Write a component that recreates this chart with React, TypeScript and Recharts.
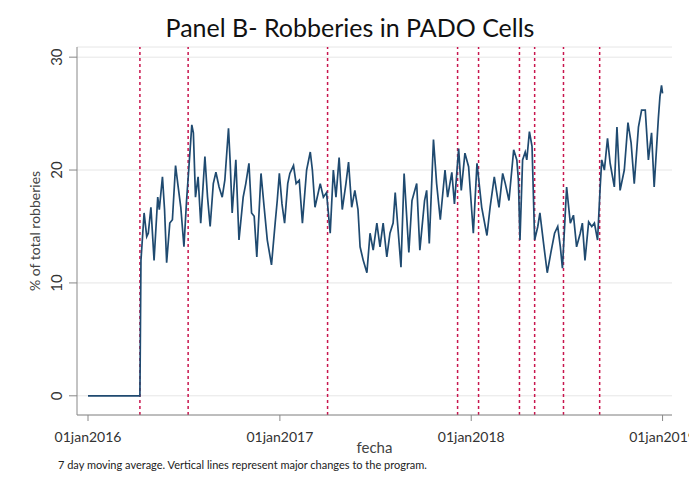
import React from "react";
import {
  CartesianGrid,
  Label,
  Line,
  LineChart,
  ReferenceLine,
  XAxis,
  YAxis,
} from "recharts";

// days since 01jan2016
const days = [
  0, 99, 101, 102, 107, 112, 115, 120, 126, 133, 136, 142, 146, 150, 156, 161, 167, 172, 177, 183,
  188, 193, 198, 201, 205, 210, 215, 223, 228, 233, 239, 244, 250, 256, 261, 268, 271, 275, 282, 288,
  296, 301, 307, 312, 317, 322, 330, 336, 342, 350, 357, 361, 365, 370, 375, 381, 385, 392, 397, 403,
  409, 417, 424, 428, 433, 443, 449, 455, 462, 468, 473, 479, 485, 492, 497, 503, 509, 515, 519, 525,
  532, 538, 544, 551, 557, 563, 570, 576, 582, 586, 591, 597, 603, 612, 618, 627, 633, 642, 646, 651,
  659, 665, 672, 681, 686, 694, 699, 707, 712, 719, 726, 735, 742, 751, 761, 767, 775, 784, 791, 796,
  803, 812, 818, 821, 824, 829, 834, 837, 842, 847, 852, 858, 862, 869, 876, 883, 890, 896, 901, 905,
  913, 920, 926, 932, 939, 943, 948, 955, 961, 966, 972, 977, 980, 985, 991, 996, 1004, 1009, 1015, 1023,
  1030, 1036, 1042, 1050, 1056, 1063, 1069, 1075, 1080, 1088, 1091, 1094, 1096,
];

// % of total robberies (7 day moving average)
const robberyShare = [
  0, 0, 12.0, 12.7, 16.2, 14.1, 14.4, 16.7, 12.0, 17.6, 16.5, 19.4, 16.5, 11.8, 15.3, 15.6, 20.4, 18.5, 16.7, 13.2,
  17.3, 20.6, 24.0, 23.3, 17.6, 19.4, 15.3, 21.2, 17.6, 15.0, 18.8, 19.8, 18.5, 17.6, 19.1, 23.7, 20.9, 16.2, 20.9, 13.8,
  17.6, 18.8, 20.6, 16.2, 15.9, 12.3, 19.7, 16.7, 13.8, 11.6, 15.3, 17.3, 19.7, 17.0, 15.3, 18.8, 19.7, 20.4, 18.8, 19.1,
  15.3, 20.0, 21.6, 20.0, 16.7, 18.8, 17.6, 18.0, 14.4, 20.0, 17.6, 21.1, 16.5, 18.8, 20.7, 16.7, 18.2, 16.5, 13.2, 12.0,
  10.9, 14.4, 12.9, 15.3, 13.2, 15.3, 12.3, 14.4, 15.3, 18.0, 15.0, 11.4, 19.7, 12.7, 17.3, 18.8, 12.9, 17.3, 18.2, 13.5,
  22.7, 18.8, 15.6, 20.0, 17.6, 19.8, 17.0, 21.9, 18.2, 21.5, 20.3, 14.4, 20.6, 16.7, 14.2, 16.7, 19.4, 16.7, 19.7, 18.8,
  17.3, 21.8, 20.9, 19.1, 13.8, 20.9, 21.6, 20.9, 23.4, 22.1, 13.8, 15.0, 16.2, 13.5, 10.9, 12.7, 14.4, 15.0, 13.2, 11.3,
  18.5, 15.3, 16.0, 13.2, 14.4, 15.3, 12.0, 15.4, 15.0, 15.3, 13.8, 18.5, 20.9, 20.0, 22.8, 20.6, 18.5, 23.8, 18.2, 20.0,
  24.2, 22.4, 18.8, 23.8, 25.3, 25.3, 20.9, 23.3, 18.5, 24.6, 26.5, 27.5, 26.8,
];

// program changes (days since 01jan2016)
const programChanges = [99, 191, 457, 705, 745, 823, 852, 907, 976];

const xTicks = [0, 366, 731, 1096];
const xTickLabels = ["01jan2016", "01jan2017", "01jan2018", "01jan2019"];
const yTicks = [0, 10, 20, 30];

const rows = days.map((d, i) => ({ day: d, share: robberyShare[i] }));

const FONT = "Lato, 'Open Sans', sans-serif";
const NAVY = "#1f4a70";
const CRIMSON = "#c8164e";

function XTick({ x, y, payload }: any) {
  const i = xTicks.indexOf(payload.value);
  return (
    <text x={x} y={y} dy={19} textAnchor="middle" fontSize={14} fill="#333" fontFamily={FONT}>
      {xTickLabels[i]}
    </text>
  );
}

function YTick({ y, payload }: any) {
  return (
    <text
      x={62}
      y={y}
      transform={`rotate(-90 62 ${y})`}
      textAnchor="middle"
      fontSize={15}
      fill="#333"
      fontFamily={FONT}
    >
      {payload.value}
    </text>
  );
}

export default function App() {
  return (
    <div
      style={{
        position: "absolute",
        left: 0,
        top: 0,
        width: 689,
        height: 489,
        background: "#fff",
        fontFamily: FONT,
        overflow: "hidden",
      }}
    >
      <div
        style={{
          position: "absolute",
          top: 12,
          width: 700,
          textAlign: "center",
          fontSize: 25,
          color: "#111",
        }}
      >
        Panel B- Robberies in PADO Cells
      </div>

      <LineChart
        width={689}
        height={489}
        data={rows}
        margin={{ top: 47, right: 17, left: 0, bottom: 0 }}
      >
        <CartesianGrid stroke="#e6e6e6" vertical={false} />
        <XAxis
          type="number"
          dataKey="day"
          domain={[-21, 1114]}
          ticks={xTicks}
          tick={<XTick />}
          height={74}
          stroke="#888"
          tickSize={6}
        >
          <Label
            value="fecha"
            position="insideTop"
            offset={27}
            fontSize={15}
            fill="#444"
            fontFamily={FONT}
          />
        </XAxis>
        <YAxis
          type="number"
          domain={[-1.7, 30.9]}
          ticks={yTicks}
          tick={<YTick />}
          width={77}
          stroke="#888"
          tickSize={8}
        >
          <Label
            value="% of total robberies"
            angle={-90}
            position="insideLeft"
            offset={35}
            fontSize={14}
            fill="#444"
            fontFamily={FONT}
            style={{ textAnchor: "middle" }}
          />
        </YAxis>
        {programChanges.map((d) => (
          <ReferenceLine
            key={d}
            x={d}
            stroke={CRIMSON}
            strokeWidth={1.5}
            strokeDasharray="3 3"
          />
        ))}
        <Line
          type="linear"
          dataKey="share"
          stroke={NAVY}
          strokeWidth={1.7}
          dot={false}
          isAnimationActive={false}
        />
      </LineChart>

      <div
        style={{
          position: "absolute",
          left: 58,
          top: 458,
          fontSize: 11,
          color: "#222",
        }}
      >
        7 day moving average. Vertical lines represent major changes to the program.
      </div>
    </div>
  );
}
